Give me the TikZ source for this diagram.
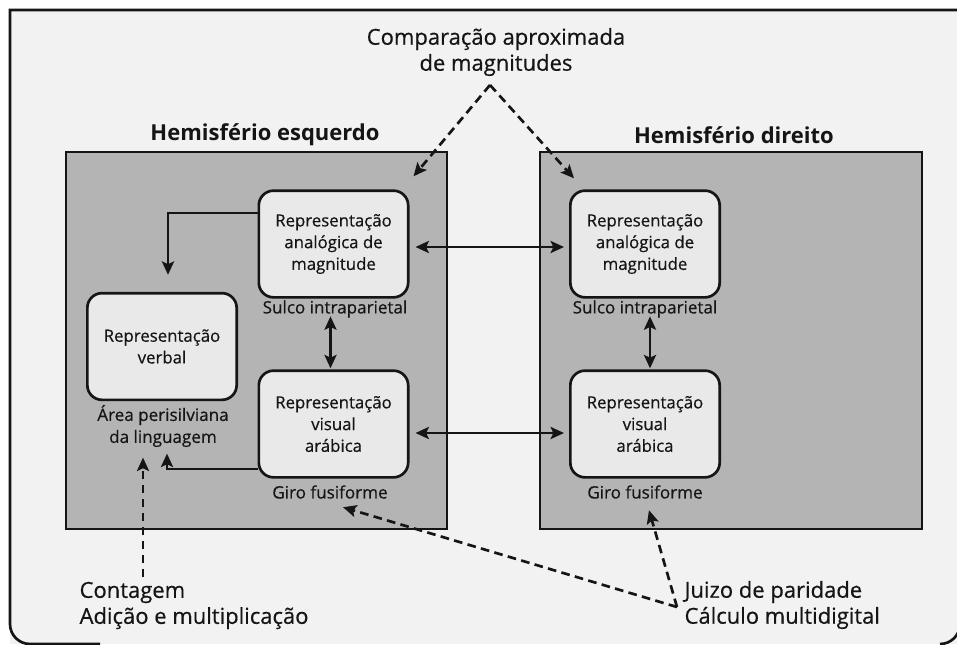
\documentclass[tikz,border=0pt]{standalone}
\usepackage{fontspec}
\setmainfont{Open Sans}
\newfontfamily\medfont{Open Sans}[FakeBold=0.5]
\usetikzlibrary{arrows.meta,calc}
\definecolor{pagebg}{HTML}{F2F2F2}
\definecolor{hemi}{HTML}{B4B4B4}
\definecolor{boxfill}{HTML}{E9E9E9}
\definecolor{ink}{HTML}{151515}
\begin{document}
\begin{tikzpicture}[x=0.75pt,y=-0.75pt,
  hemibox/.style={draw=ink,line width=2pt,fill=hemi,inner sep=0pt},
  repbox/.style={draw=ink,line width=2pt,fill=boxfill,rounded corners=11pt,minimum width=112pt,minimum height=80pt,align=center,font=\medfont\fontsize{12.6}{16.3}\selectfont,text=ink,inner sep=1pt},
  region/.style={align=center,font=\medfont\fontsize{12.8}{16.5}\selectfont,text=ink,inner sep=1pt},
  titletext/.style={font=\bfseries\fontsize{16.5}{19}\selectfont,text=ink},
  outertext/.style={font=\medfont\fontsize{16.5}{19.5}\selectfont,text=ink,inner sep=1pt},
  tip/.tip={Stealth[length=10pt,width=9pt,inset=2pt]},
  link/.style={draw=ink,line width=2pt,-tip},
  dlink/.style={draw=ink,line width=2pt,tip-tip},
  dashlink/.style={link,dash pattern=on 6.5pt off 4pt},
]
\useasboundingbox (0,0) rectangle (957,644);
\fill[white] (0,0) rectangle (957,644);
\fill[pagebg] (10,10) rectangle (957,644);
\draw[ink,line width=2pt] (957,10) -- (10,10) -- (10,624) arc[start angle=180,end angle=90,radius=20] -- (100,644);
\draw[ink,line width=2pt] (940,644) arc[start angle=90,end angle=0,radius=20];

% hemispheres
\node[hemibox,minimum width=285.75pt,minimum height=282.75pt] (hemL) at (256.5,340.5) {};
\node[hemibox,minimum width=286.5pt,minimum height=282.75pt] (hemR) at (731,340.5) {};
\node[titletext] (tL) at (265,135) {Hemisfério esquerdo};
\node[titletext] (tR) at (734,135) {Hemisfério direito};

% boxes
\node[repbox] (anL) at (333.5,244) {Representação\\analógica de\\magnitude};
\node[repbox] (anR) at (645,244) {Representação\\analógica de\\magnitude};
\node[repbox] (verb) at (162,346.5) {Representação\\verbal};
\node[repbox] (visL) at (333.5,424) {Representação\\visual\\arábica};
\node[repbox] (visR) at (645,424) {Representação\\visual\\arábica};

% region labels
\node[region] (sulL) at (335,309) {Sulco intraparietal};
\node[region] (sulR) at (645,309) {Sulco intraparietal};
\node[region] (girL) at (330,492) {Giro fusiforme};
\node[region] (girR) at (645,492) {Giro fusiforme};
\node[region] (area) at (163,426) {Área perisilviana\\da linguagem};

% outside labels
\node[outertext,align=center] (cmp) at (496,52) {Comparação aproximada\\de magnitudes};
\node[outertext,align=left,anchor=west] (cont) at (78,605.5) {Contagem\\Adição e multiplicação};
\node[outertext,align=left,anchor=west] (juiz) at (683,605) {Juizo de paridade\\Cálculo multidigital};

% connectors
\coordinate (apex) at (490,85);
\draw[dashlink] (apex) -- ($(anL.north east)+(4,-13)$);
\draw[dashlink] (apex) -- ($(anR.north west)+(5,-11)$);
\draw[dlink] ($(anL.east)+(6,3)$) -- ($(anR.west)+(-5,3)$);
\draw[link] ($(anL.west)+(0,-31)$) -| ($(verb.north)+(6,-17)$);
\draw[dlink] ($(visL.north)+(-3,-53)$) -- ($(visL.north)+(-3,-1)$);
\draw[dlink] ($(visR.north)+(5,-53)$) -- ($(visR.north)+(5,-1)$);
\draw[dlink] ($(visL.east)+(6,9)$) -- ($(visR.west)+(-5,9)$);
\draw[link] ($(visL.west)+(0,45)$) -| ($(area.south)+(4,5)$);
\coordinate (contTop) at ($(cont.north west)+(65,-3)$);
\draw[dashlink] (contTop) -- ($(area.south)+(-20,9)$);
\coordinate (juizPt) at ($(juiz.west)+(-6,2)$);
\draw[dashlink] (juizPt) -- ($(girL.south)+(13,7)$);
\draw[dashlink] (juizPt) -- ($(girR.south)+(4,10)$);
\end{tikzpicture}
\end{document}
